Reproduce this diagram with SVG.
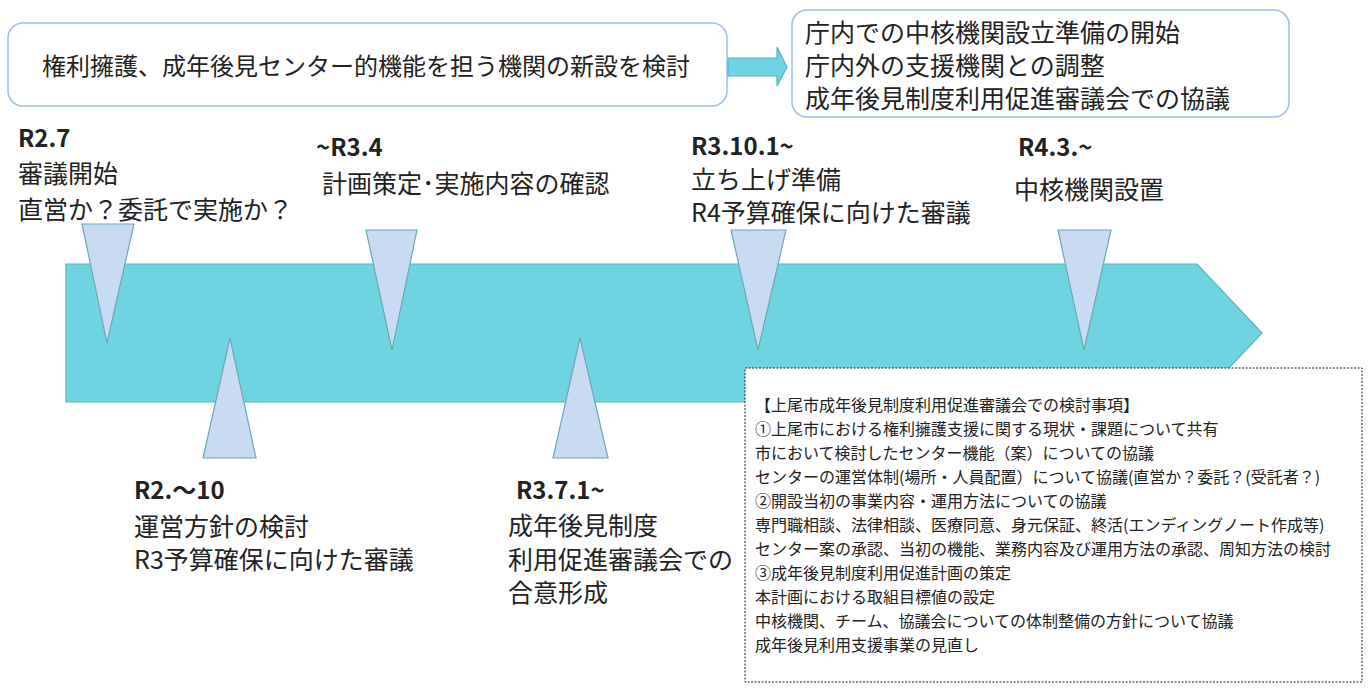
<svg xmlns="http://www.w3.org/2000/svg" width="1370" height="697" viewBox="0 0 1370 697">
<style>
text{font-family:"Noto Sans CJK JP","Noto Sans CJK SC",sans-serif;fill:#222;}
.t{font-size:25px;}
.b{font-size:24px;font-weight:bold;}
.s{font-size:16px;}
.box{fill:#fff;stroke:#9cbfe8;stroke-width:1.5;}
.tri{fill:#c9daf3;stroke:#6aaab8;stroke-width:1.2;}
.arr{fill:#6fd4e1;stroke:#5ab3c0;stroke-width:1.2;}
</style>
<g id="timeline-arrow">
<polygon class="arr" points="66,264 1197,264 1262,333 1197,402 66,402"/>
</g>
<g id="box-top-left">
<rect class="box" x="8" y="23" width="719" height="83" rx="15"/>
<text x="366" y="75" text-anchor="middle" font-size="24">権利擁護、成年後見センター的機能を担う機関の新設を検討</text>
</g>
<g id="connectors">
<polygon class="arr" points="728,58 777,58 777,47 787,67 777,86 777,76 728,76"/>
</g>
<g id="box-top-right">
<rect class="box" x="792" y="10" width="497" height="107" rx="15"/>
<text class="t" x="805" y="42">庁内での中核機関設立準備の開始</text>
<text class="t" x="805" y="75">庁内外の支援機関との調整</text>
<text class="t" x="805" y="108">成年後見制度利用促進審議会での協議</text>
</g>
<g id="m-r27">
<polygon class="tri" points="82,224 134,224 107,343"/>
<text class="b" x="18" y="147">R2.7</text>
<text class="t" x="18" y="183">審議開始</text>
<text class="t" x="18" y="219">直営か？委託で実施か？</text>
</g>
<g id="m-r34">
<polygon class="tri" points="366,230 417,230 392,350"/>
<text class="b" x="316" y="156">~R3.4</text>
<text class="t" x="322" y="193">計画策定･実施内容の確認</text>
</g>
<g id="m-r3101">
<polygon class="tri" points="731,230 786,230 758,350"/>
<text class="b" x="691" y="155">R3.10.1~</text>
<text class="t" x="691" y="189">立ち上げ準備</text>
<text class="t" x="691" y="222">R4予算確保に向けた審議</text>
</g>
<g id="m-r43">
<polygon class="tri" points="1058,230 1111,230 1084,350"/>
<text class="b" x="1018" y="156">R4.3.~</text>
<text class="t" x="1014" y="199">中核機関設置</text>
</g>
<g id="m-r210">
<polygon class="tri" points="203,458 256,458 230,338"/>
<text class="b" x="134" y="499">R2.～10</text>
<text class="t" x="134" y="536">運営方針の検討</text>
<text class="t" x="134" y="569">R3予算確保に向けた審議</text>
</g>
<g id="m-r371">
<polygon class="tri" points="553,458 608,458 580,338"/>
<text class="b" x="516" y="499">R3.7.1~</text>
<text class="t" x="508" y="535">成年後見制度</text>
<text class="t" x="508" y="569">利用促進審議会での</text>
<text class="t" x="508" y="602">合意形成</text>
</g>
<g id="notes">
<rect x="745" y="368" width="617" height="314" fill="#fff" stroke="#222" stroke-width="1" stroke-dasharray="2,1.5"/>
<text class="s" x="755" y="411">【上尾市成年後見制度利用促進審議会での検討事項】</text>
<text class="s" x="755" y="435">①上尾市における権利擁護支援に関する現状・課題について共有</text>
<text class="s" x="755" y="459">市において検討したセンター機能（案）についての協議</text>
<text class="s" x="755" y="483">センターの運営体制(場所・人員配置）について協議(直営か？委託？(受託者？)</text>
<text class="s" x="755" y="507">②開設当初の事業内容・運用方法についての協議</text>
<text class="s" x="755" y="531">専門職相談、法律相談、医療同意、身元保証、終活(エンディングノート作成等)</text>
<text class="s" x="755" y="555">センター案の承認、当初の機能、業務内容及び運用方法の承認、周知方法の検討</text>
<text class="s" x="755" y="579">③成年後見制度利用促進計画の策定</text>
<text class="s" x="755" y="603">本計画における取組目標値の設定</text>
<text class="s" x="755" y="627">中核機関、チーム、協議会についての体制整備の方針について協議</text>
<text class="s" x="755" y="651">成年後見利用支援事業の見直し</text>
</g>
</svg>
